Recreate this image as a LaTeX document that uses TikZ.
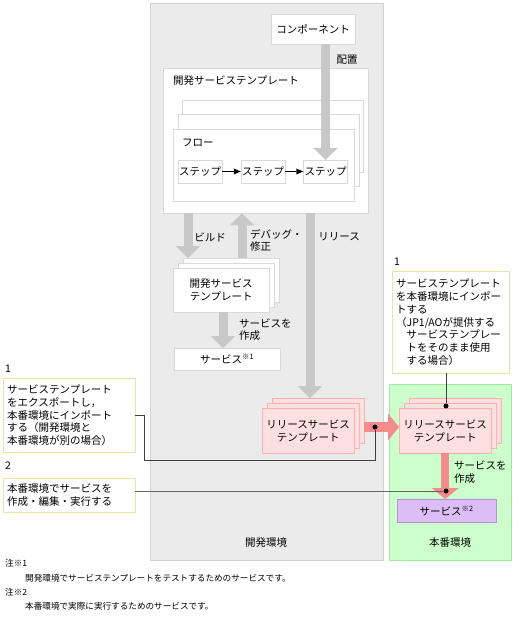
\documentclass[tikz,border=0pt]{standalone}
\usepackage{fontspec}
\setmainfont{Noto Sans CJK JP}
\usepackage{tikz}
\usetikzlibrary{arrows.meta}

\definecolor{envgray}{HTML}{EBEBEB}
\definecolor{envgrayline}{HTML}{D2D2D2}
\definecolor{envgreen}{HTML}{CCFFCC}
\definecolor{envgreenline}{HTML}{A0E8A0}
\definecolor{boxline}{HTML}{D9D9D9}
\definecolor{arrowgray}{HTML}{C8C8C8}
\definecolor{pinkfill}{HTML}{FFE0E0}
\definecolor{pinkline}{HTML}{FFB0B0}
\definecolor{arrowpink}{HTML}{F48C8C}
\definecolor{purplefill}{HTML}{DDBDF6}
\definecolor{purpleline}{HTML}{B690DC}
\definecolor{calloutline}{HTML}{E6E6A6}

\begin{document}
\begin{tikzpicture}[x=1pt,y=-1pt,font=\fontsize{10.5}{12.7}\selectfont,
  envbox/.style={draw=envgrayline,fill=envgray,rectangle,anchor=north west,inner sep=0pt},
  box/.style={draw=boxline,fill=white,rectangle,anchor=north west,inner sep=1pt,align=center},
  pinkbox/.style={box,draw=pinkline,fill=pinkfill,minimum width=92,minimum height=45},
  stepbox/.style={draw=boxline,fill=white,rectangle,inner sep=1pt,minimum width=44,minimum height=23},
  lbl/.style={inner sep=0pt,anchor=west,align=left},
  note/.style={lbl,font=\fontsize{8.6}{10}\selectfont},
  callout/.style={draw=calloutline,fill=white,rectangle,anchor=north west,align=left,inner xsep=4pt,inner ysep=2pt},
  fatgray/.style={draw=arrowgray,line width=9pt,-{Triangle[width=25pt,length=12pt,line width=0pt]}},
  fatpink/.style={draw=arrowpink,line width=10pt,-{Triangle[width=27pt,length=11pt,line width=0pt]}},
  flowarrow/.style={draw=black,line width=1pt,-{Triangle[width=6pt,length=7pt,line width=0pt]}},
  leader/.style={draw=black!75,line width=0.9pt},
  dot/.style={circle,fill=black,inner sep=0pt,minimum size=5pt}]
\useasboundingbox (0,0) rectangle (513,620);

% environments
\node[envbox,minimum width=233,minimum height=557] (devenv) at (150,3) {};
\node[envbox,draw=envgreenline,fill=envgreen,minimum width=122,minimum height=176] (prodenv) at (389,384) {};
\node (devenvlbl) at (266,543) {開発環境};
\node (prodenvlbl) at (450,543) {本番環境};

% development side
\node[box,minimum width=84,minimum height=30] (comp) at (271,14) {コンポーネント};
\node[box,minimum width=205,minimum height=145] (devtpl) at (163,68) {};
\node[lbl] (devtpltitle) at (173,81) {開発サービステンプレート};
\foreach \k/\d in {3/2,2/1}
  \node[box,minimum width=181,minimum height=72] (page\k) at (173+4.5*\d,129-14.5*\d) {};
\node[box,minimum width=181,minimum height=72] (page1) at (173,129) {};
\node[lbl] (flowtitle) at (182,143) {フロー};
\node[stepbox] (stepA) at (200,171.5) {ステップ};
\node[stepbox] (stepB) at (263,171.5) {ステップ};
\node[stepbox] (stepC) at (325.5,171.5) {ステップ};
\draw[flowarrow] (stepA) -- (stepB);
\draw[flowarrow] (stepB) -- (stepC);

\foreach \k/\d in {3/2,2/1}
  \node[box,minimum width=96,minimum height=44] (devsvc\k) at (173+5*\d,268-5*\d) {};
\node[box,minimum width=96,minimum height=44] (devsvc1) at (173,268) {開発サービス\\テンプレート};
\node[box,minimum width=106,minimum height=22] (svcA) at (174,348) {サービス\textsuperscript{※1}};

% release templates
\foreach \k/\d in {3/2,2/1}
  \node[pinkbox] (relL\k) at (262+5*\d,408-5*\d) {};
\node[pinkbox] (relL1) at (262,408) {リリースサービス\\テンプレート};
\foreach \k/\d in {3/2,2/1}
  \node[pinkbox] (relR\k) at (399+5*\d,408-5*\d) {};
\node[pinkbox] (relR1) at (399,408) {リリースサービス\\テンプレート};
\node[box,draw=purpleline,fill=purplefill,minimum width=99,minimum height=23] (svcB) at (397,499) {サービス\textsuperscript{※2}};

% flows
\coordinate (xbuild) at (188,0);
\coordinate (xdebug) at (242,0);
\coordinate (xmake) at (223,0);
\coordinate (xrel) at (310,0);
\coordinate (yrel) at (0,427);
\draw[fatgray] (comp.south -| stepC) -- (stepC.north);
\draw[fatgray] (devtpl.south -| xbuild) -- (devsvc3.north -| xbuild);
\draw[fatgray] (devsvc3.north -| xdebug) -- (devtpl.south -| xdebug);
\draw[fatgray] (devtpl.south -| xrel) -- (relL3.north -| xrel);
\draw[fatgray] (devsvc1.south -| xmake) -- (svcA.north -| xmake);
\draw[fatpink] (relL3.east |- yrel) -- (relR1.west |- yrel);
\draw[fatpink,line width=8pt] (relR1.south) -- (relR1.south |- svcB.north);

\node (place) at (347,60) {配置};
\node (build) at (210,237) {ビルド};
\node[lbl,anchor=north west] (debug) at (250,229) {デバッグ・\\修正};
\node (release) at (339,237) {リリース};
\node[lbl] (makeA) at (239,329.5) {サービスを\\作成};
\node[lbl] (makeB) at (454,472) {サービスを\\作成};

% callouts
\node[lbl] (numA) at (5,369) {1};
\node[callout,text width=124,minimum height=74] (noteA) at (3,378)
  {サービステンプレート\\をエクスポートし，\\本番環境にインポート\\する（開発環境と\\本番環境が別の場合）};
\node[lbl] (numB) at (5,466) {2};
\node[callout,text width=124,minimum height=34] (noteB) at (3,478)
  {本番環境でサービスを\\作成・編集・実行する};
\node[lbl] (numC) at (394,262) {1};
\node[callout,text width=109,minimum height=102] (noteC) at (392,271)
  {サービステンプレート\\を本番環境にインポー\\トする\\（JP1/AOが提供する\\\hspace*{1em}サービステンプレー\\\hspace*{1em}トをそのまま使用\\\hspace*{1em}する場合）};

\node[dot] (dotA) at (375,427) {};
\node[dot] (dotB) at (446,491) {};
\node[dot] (dotC) at (446,406) {};
\coordinate (bendA) at (144,460);
\draw[leader] (noteA.east) -| (bendA) -| (dotA);
\draw[leader,draw=black!60] (noteB.east |- dotB) -- (dotB);
\draw[leader] (noteC.south -| dotC) -- (dotC);

% notes
\node[note] (fnA) at (5,563) {注※1};
\node[note] (fnAtext) at (25,578) {開発環境でサービステンプレートをテストするためのサービスです。};
\node[note] (fnB) at (5,592) {注※2};
\node[note] (fnBtext) at (25,606) {本番環境で実際に実行するためのサービスです。};
\end{tikzpicture}
\end{document}
